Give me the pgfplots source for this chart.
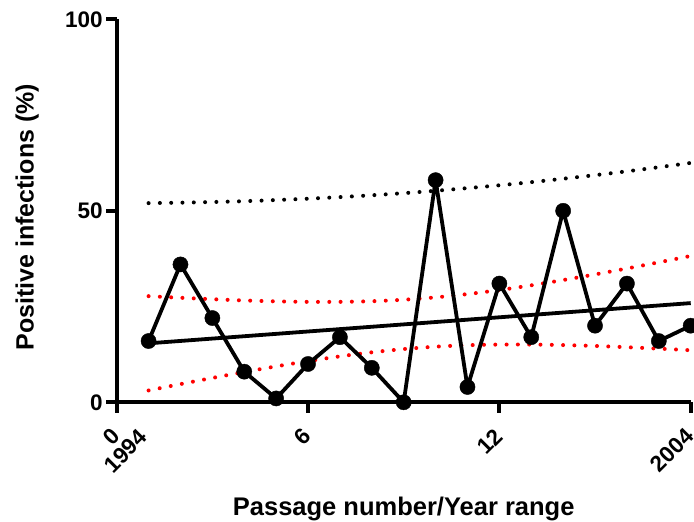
\documentclass[border=0pt]{standalone}
\usepackage{fontspec}
\setmainfont{Liberation Sans}
\usepackage{pgfplots}
\pgfplotsset{compat=1.18}
\begin{document}
\begin{tikzpicture}
\begin{axis}[
  scale only axis, width=574pt, height=383pt,
  xmin=0, xmax=18, ymin=0, ymax=100,
  axis lines=left,
  axis line style={-, line width=3.8pt},
  clip=false,
  xtick={0,6,12,18},
  xticklabels={{0\llap{\makebox[0.556em][c]{\smash{\raisebox{-0.88em}{1994}}}}},6,12,2004},
  ytick={0,50,100},
  tick align=outside,
  major tick length=10.5pt,
  tick style={line width=3.8pt, black},
  /pgf/number format/assume math mode=true,
  ticklabel style={font=\fontsize{22.5}{26}\selectfont\bfseries},
  xticklabel style={rotate=45, anchor=east, inner sep=1pt},
  xticklabel shift=19pt,
  every axis x label/.style={at={(axis description cs:0.5,-0.295)}, anchor=base, font=\fontsize{25.5}{29}\selectfont\bfseries},
  every axis y label/.style={at={(axis description cs:-0.1449,0.483)}, rotate=90, anchor=base, font=\fontsize{25}{29}\selectfont\bfseries},
  xlabel={Passage number/Year range},
  ylabel={Positive infections (\%)},
]
\coordinate (sw) at (rel axis cs:0,0);
\coordinate (ne) at (rel axis cs:1,1);
% upper prediction band
\addplot[black, line width=4pt, line cap=round, dash pattern=on 0pt off 11.3pt, smooth] coordinates {
(1,52.00) (2,52.12) (3,52.29) (4,52.51) (5,52.81) (6,53.16) (7,53.58) (8,54.06) (9,54.61)
(10,55.23) (11,55.92) (12,56.66) (13,57.48) (14,58.37) (15,59.31) (16,60.31) (17,61.38) (18,62.50)};
% confidence band upper
\addplot[red, line width=4pt, line cap=round, dash pattern=on 0pt off 11.3pt, smooth] coordinates {
(1,27.71) (2,27.29) (3,26.92) (4,26.59) (5,26.36) (6,26.22) (7,26.23) (8,26.39) (9,26.78)
(10,27.40) (11,28.25) (12,29.31) (13,30.54) (14,31.92) (15,33.39) (16,34.94) (17,36.55) (18,38.21)};
% confidence band lower
\addplot[red, line width=4pt, line cap=round, dash pattern=on 0pt off 11.3pt, smooth] coordinates {
(1,3.09) (2,4.75) (3,6.36) (4,7.91) (5,9.38) (6,10.76) (7,11.99) (8,13.05) (9,13.90)
(10,14.52) (11,14.91) (12,15.07) (13,15.08) (14,14.94) (15,14.71) (16,14.38) (17,14.01) (18,13.59)};
% regression line
\addplot[black, line width=3.8pt] coordinates {(1,15.4) (18,25.9)};
% data
\addplot[black, line width=3.8pt, line join=round, mark=*, mark size=7.6pt, mark options={solid, fill=black, line width=0.4pt}] coordinates {
(1,16) (2,36) (3,22) (4,8) (5,1) (6,10) (7,17) (8,9) (9,0) (10,58)
(11,4) (12,31) (13,17) (14,50) (15,20) (16,31) (17,16) (18,20)};
\end{axis}
\pgfresetboundingbox
\path ([shift={(-116.7pt,-119.5pt)}]sw) rectangle ([shift={(3.3pt,19.3pt)}]ne);
\end{tikzpicture}
\end{document}
